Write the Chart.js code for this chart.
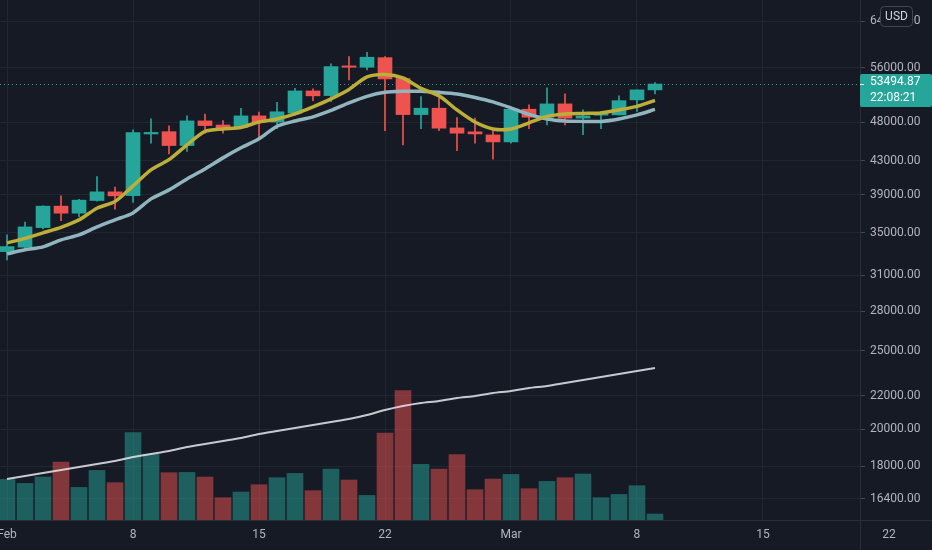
<!DOCTYPE html>
<html>
<head>
<meta charset="utf-8">
<script src="https://cdn.jsdelivr.net/npm/chart.js@4.4.1/dist/chart.umd.min.js"></script>
<style>
  html, body { margin: 0; padding: 0; background: #161a25; }
  #wrap { width: 932px; height: 550px; position: relative; }
</style>
</head>
<body>
<div id="wrap"><canvas id="chart"></canvas></div>
<script>
// daily candles, Feb 1 .. Mar 9
const dates = ['Feb 1','Feb 2','Feb 3','Feb 4','Feb 5','Feb 6','Feb 7','Feb 8','Feb 9','Feb 10','Feb 11','Feb 12','Feb 13',
  'Feb 14','Feb 15','Feb 16','Feb 17','Feb 18','Feb 19','Feb 20','Feb 21','Feb 22','Feb 23','Feb 24','Feb 25',
  'Feb 26','Feb 27','Feb 28','Mar 1','Mar 2','Mar 3','Mar 4','Mar 5','Mar 6','Mar 7','Mar 8','Mar 9'];

const opens  = [33180, 33600, 35530, 37770, 37020, 38380, 39340, 38920, 46400, 46700, 44890, 48160, 47600,
  47250, 48850, 48000, 49240, 52450, 51760, 56330, 56120, 57670, 54330, 49030, 49930,
  47200, 46680, 46270, 45360, 49790, 48670, 50550, 48540, 48950, 48990, 51130, 52610];
const highs  = [34800, 36080, 37800, 38890, 38500, 41090, 39870, 46940, 48440, 47480, 48850, 49090, 48200,
  49930, 49370, 50790, 52860, 52750, 56650, 57830, 58570, 57830, 54400, 51610, 52100,
  48620, 48540, 46850, 49930, 50420, 52900, 52010, 49690, 49460, 51720, 52610, 53700];
const lows   = [32400, 33500, 35400, 36250, 36660, 38300, 37450, 38160, 45200, 43840, 44130, 46500, 46500,
  47100, 45970, 47100, 48950, 51020, 50880, 54130, 55700, 46850, 44980, 47100, 46850,
  44250, 45200, 43180, 45200, 47100, 47620, 47620, 46320, 47100, 48950, 49460, 52010];
const closes = [33660, 35600, 37770, 37020, 38420, 39340, 38890, 46580, 46600, 44890, 48160, 47520, 47150,
  48850, 48000, 49420, 52450, 51720, 56220, 56120, 57740, 54280, 49030, 49930, 47170,
  46500, 46400, 45360, 49790, 48670, 50550, 48540, 48850, 49240, 51020, 52610, 53494.87];

// moving averages
const maFast = [34020, 34460, 35000, 35560, 36320, 37550, 38270, 40020, 41880, 43120, 44980, 46730, 47060,
  47270, 48000, 48410, 49130, 50130, 51280, 52680, 54580, 54970, 54420, 52830, 51720,
  49690, 48000, 47060, 47060, 47890, 48780, 49130, 49200, 49270, 49690, 50200, 51060];
const maSlow = [32970, 33350, 33630, 34310, 34800, 35600, 36320, 37050, 38560, 39560, 40820, 41990, 43340,
  44600, 45760, 47430, 48140, 48710, 49620, 50690, 51640, 52240, 52390, 52390, 52240,
  52010, 51490, 50840, 49980, 49060, 48430, 48150, 48090, 48090, 48430, 48990, 49760];

// volume (arbitrary units) and its average
const volumes = [40600, 36600, 43000, 58000, 32600, 49600, 37300, 87300, 66000, 47300, 47600, 43000, 22300,
  28000, 35300, 42300, 46600, 29300, 51000, 40000, 24600, 87000, 129300, 55600, 51000,
  65300, 30300, 41000, 45600, 31300, 38600, 42300, 46000, 22300, 25600, 34300, 6000];
const volMa = [41000, 44000, 47000, 50000, 53000, 56000, 59000, 63000, 66000, 69000, 73000, 76000, 79000,
  82000, 86000, 89000, 92000, 95000, 98000, 101000, 105000, 110000, 114000, 117000, 119000,
  122000, 124000, 127000, 129000, 132000, 134000, 137000, 140000, 143000, 146000, 149000, 152000];

const xTickDays = [0, 7, 14, 21, 28, 35, 42, 49];
const xTickLabels = ['Feb', '8', '15', '22', 'Mar', '8', '15', '22'];
const priceTicks = [64000, 56000, 48000, 43000, 39000, 35000, 31000, 28000, 25000, 22000, 20000, 18000, 16400];

const UP = '#26a69a', DOWN = '#ef5350';
const isUp = opens.map((o, i) => closes[i] >= o);
const candleCol = isUp.map(u => u ? UP : DOWN);
const volCol = isUp.map(u => u ? 'rgba(38,166,154,0.5)' : 'rgba(239,83,80,0.5)');
const pts = arr => arr.map((v, i) => ({ x: i, y: v }));
const lastClose = closes[closes.length - 1];

const decor = {
  id: 'decor',
  beforeDraw(chart) {
    const c = chart.ctx;
    c.save();
    c.fillStyle = '#161a25';
    c.fillRect(0, 0, chart.width, chart.height);
    c.restore();
  },
  beforeDatasetsDraw(chart) {
    const c = chart.ctx, a = chart.chartArea;
    const y = chart.scales.y.getPixelForValue(lastClose);
    c.save();
    c.strokeStyle = UP;
    c.lineWidth = 1;
    c.setLineDash([1, 3]);
    c.beginPath();
    c.moveTo(a.left, y + 0.5);
    c.lineTo(a.right, y + 0.5);
    c.stroke();
    c.restore();
  },
  afterDraw(chart) {
    const c = chart.ctx, a = chart.chartArea;
    const xs = chart.scales.x, ys = chart.scales.y;
    c.save();
    // pane separators running through the axis corners
    c.strokeStyle = '#2a2e39';
    c.lineWidth = 1;
    c.beginPath();
    c.moveTo(a.right + 0.5, 0);
    c.lineTo(a.right + 0.5, chart.height);
    c.moveTo(0, a.bottom + 0.5);
    c.lineTo(chart.width, a.bottom + 0.5);
    c.stroke();

    // date labels
    c.font = '12px Roboto';
    c.fillStyle = '#b2b5be';
    c.textAlign = 'center';
    c.textBaseline = 'middle';
    xTickDays.forEach((d, i) => c.fillText(xTickLabels[i], xs.getPixelForValue(d), 535));

    // last price badge
    const y = ys.getPixelForValue(lastClose);
    c.fillStyle = UP;
    c.beginPath();
    c.roundRect(a.right, y - 10, chart.width - a.right, 33, 2);
    c.fill();
    c.fillStyle = '#ffffff';
    c.fillRect(a.right, y, 4, 1);
    c.textAlign = 'left';
    c.font = '12px Roboto';
    c.fillText(lastClose.toFixed(2), a.right + 10, y - 2);
    c.fillText('22:08:21', a.right + 10, y + 14);

    // currency badge
    c.fillStyle = '#161a25';
    c.strokeStyle = '#434651';
    c.lineWidth = 1;
    c.beginPath();
    c.roundRect(880.5, 6.5, 32, 20, 4);
    c.fill();
    c.stroke();
    c.fillStyle = '#d1d4dc';
    c.textAlign = 'center';
    c.fillText('USD', 896.5, 17);
    c.restore();
  }
};

new Chart(document.getElementById('chart'), {
  data: {
    datasets: [
      { type: 'line', label: 'MA fast', data: pts(maFast), borderColor: '#bcae38', borderWidth: 3.5,
        pointRadius: 0, tension: 0.25, yAxisID: 'y', order: 1 },
      { type: 'line', label: 'MA slow', data: pts(maSlow), borderColor: '#91b5be', borderWidth: 3.5,
        pointRadius: 0, tension: 0.25, yAxisID: 'y', order: 2 },
      { type: 'bar', label: 'body', data: opens.map((o, i) => ({ x: i, y: [o, closes[i]] })),
        backgroundColor: candleCol, borderWidth: 0, barThickness: 14, minBarLength: 1, grouped: false,
        yAxisID: 'y', order: 3 },
      { type: 'bar', label: 'wick', data: lows.map((l, i) => ({ x: i, y: [l, highs[i]] })),
        backgroundColor: candleCol, borderWidth: 0, barThickness: 1, grouped: false,
        yAxisID: 'y', order: 4 },
      { type: 'line', label: 'Vol MA', data: pts(volMa), borderColor: 'rgba(220,221,226,0.9)', borderWidth: 2,
        pointRadius: 0, tension: 0.2, yAxisID: 'yv', order: 5 },
      { type: 'bar', label: 'Volume', data: pts(volumes), backgroundColor: volCol, borderWidth: 0,
        barThickness: 16, grouped: false, yAxisID: 'yv', order: 6 }
    ]
  },
  options: {
    responsive: true,
    maintainAspectRatio: false,
    animation: false,
    layout: { padding: 0 },
    plugins: { legend: { display: false }, tooltip: { enabled: false } },
    scales: {
      x: {
        type: 'linear', min: -0.39, max: 47.39, offset: false,
        afterBuildTicks: s => { s.ticks = xTickDays.filter(d => d <= s.max).map(v => ({ value: v })); },
        ticks: { display: false },
        grid: { color: '#222632', drawTicks: false, offset: false },
        border: { color: '#2a2e39' },
        afterFit: s => { s.height = 30; s.paddingLeft = 0; s.paddingRight = 0; }
      },
      y: {
        type: 'logarithmic', position: 'right', min: 15440, max: 67970,
        afterBuildTicks: s => { s.ticks = priceTicks.map(v => ({ value: v })); },
        ticks: { color: '#b2b5be', font: { family: 'Roboto', size: 12 }, padding: 5, autoSkip: false,
          callback: v => Number(v).toFixed(2) },
        grid: { color: '#222632', tickLength: 5, tickColor: '#434651' },
        border: { color: '#2a2e39' },
        afterFit: s => { s.width = 72; s.paddingTop = 0; s.paddingBottom = 0; }
      },
      yv: {
        type: 'linear', display: false, min: 0, max: 520000
      }
    }
  },
  plugins: [decor]
});
</script>
</body>
</html>
